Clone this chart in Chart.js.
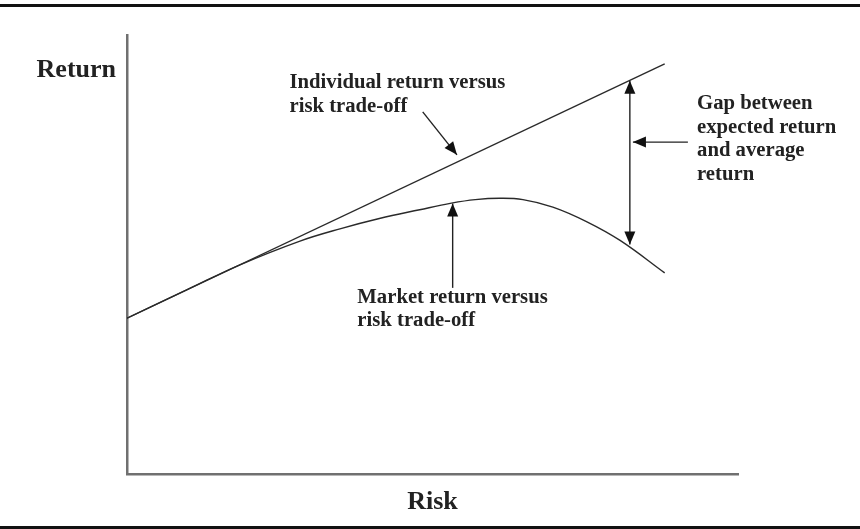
<!DOCTYPE html>
<html>
<head>
<meta charset="utf-8">
<script src="https://cdn.jsdelivr.net/npm/chart.js@4.4.1/dist/chart.umd.min.js"></script>
<style>
    html, body { margin: 0; padding: 0; background: #fff; }
    #wrap { width: 860px; height: 529px; }
</style>
</head>
<body>
<div id="wrap"><canvas id="riskChart" width="860" height="529"></canvas></div>
<script>
// risk on x, return on y (arbitrary 0-100 units, no ticks in the original)
var riskIndividual = [0, 88];
var returnIndividual = [35.5, 93.4];

var riskMarket = [0, 10, 18.4, 28.2, 35, 41.3, 47.9, 53.1, 57, 61, 64.8, 69.7, 75.2, 80.7, 88];
var returnMarket = [35.5, 42.1, 47.6, 53.0, 55.9, 58.2, 60.2, 61.7, 62.5, 62.8, 62.5, 60.8, 57.5, 53.2, 45.8];

var individualLabel = ['Individual return versus', 'risk trade-off'];
var marketLabel = ['Market return versus', 'risk trade-off'];
var gapLabel = ['Gap between', 'expected return', 'and average', 'return'];
var yTitle = 'Return';
var xTitle = 'Risk';

var SERIF = '"Liberation Serif", "DejaVu Serif", serif';

function toPoints(xs, ys) {
    return xs.map(function (x, i) { return { x: x, y: ys[i] }; });
}

function drawArrow(ctx, x1, y1, x2, y2, both) {
    var head = 13, half = 5.5;
    function tip(ax, ay, bx, by) {
        var a = Math.atan2(by - ay, bx - ax);
        ctx.beginPath();
        ctx.moveTo(bx, by);
        ctx.lineTo(bx - head * Math.cos(a) + half * Math.sin(a), by - head * Math.sin(a) - half * Math.cos(a));
        ctx.lineTo(bx - head * Math.cos(a) - half * Math.sin(a), by - head * Math.sin(a) + half * Math.cos(a));
        ctx.closePath();
        ctx.fill();
    }
    ctx.beginPath();
    ctx.moveTo(x1, y1);
    ctx.lineTo(x2, y2);
    ctx.stroke();
    tip(x1, y1, x2, y2);
    if (both) tip(x2, y2, x1, y1);
}

var sketchPlugin = {
    id: 'sketch',
    beforeDraw: function (chart) {
        var ctx = chart.ctx;
        ctx.save();
        ctx.fillStyle = '#fff';
        ctx.fillRect(0, 0, chart.width, chart.height);
        // rules above and below the figure
        ctx.fillStyle = '#111';
        ctx.fillRect(0, 4, chart.width, 3);
        ctx.fillRect(0, 526, chart.width, 3);
        ctx.restore();
    },
    afterDatasetsDraw: function (chart, args, opts) {
        var ctx = chart.ctx;
        var xs = chart.scales.x, ys = chart.scales.y;
        var area = chart.chartArea;
        var px = function (v) { return xs.getPixelForValue(v); };
        var py = function (v) { return ys.getPixelForValue(v); };
        ctx.save();
        ctx.strokeStyle = '#222';
        ctx.fillStyle = '#111';
        ctx.lineWidth = 1.4;
        opts.arrows.forEach(function (a) {
            drawArrow(ctx, px(a.from[0]), py(a.from[1]), px(a.to[0]), py(a.to[1]), a.both);
        });

        ctx.fillStyle = '#222';
        ctx.textAlign = 'left';
        ctx.textBaseline = 'alphabetic';
        ctx.font = 'bold 20.7px ' + SERIF;
        opts.labels.forEach(function (l) {
            l.lines.forEach(function (t, i) {
                ctx.fillText(t, px(l.at[0]), py(l.at[1]) + i * 23.5);
            });
        });

        ctx.font = 'bold 26px ' + SERIF;
        ctx.textAlign = 'right';
        ctx.fillText(yTitle, area.left - 11, area.top + 42);
        ctx.textAlign = 'center';
        ctx.fillText(xTitle, (area.left + area.right) / 2, area.bottom + 35);
        ctx.restore();
    }
};

document.addEventListener('DOMContentLoaded', function () {
    var ctx = document.getElementById('riskChart').getContext('2d');
    new Chart(ctx, {
        type: 'scatter',
        data: {
            datasets: [
                {
                    label: 'Individual',
                    data: toPoints(riskIndividual, returnIndividual),
                    showLine: true,
                    borderColor: '#2a2a2a',
                    borderWidth: 1.4,
                    pointRadius: 0
                },
                {
                    label: 'Market',
                    data: toPoints(riskMarket, returnMarket),
                    showLine: true,
                    borderColor: '#2a2a2a',
                    borderWidth: 1.4,
                    pointRadius: 0,
                    tension: 0.4
                }
            ]
        },
        options: {
            responsive: false,
            animation: false,
            layout: { padding: { left: 119, right: 122, top: 35, bottom: 47 } },
            plugins: {
                legend: { display: false },
                tooltip: { enabled: false },
                sketch: {
                    arrows: [
                        { from: [48.4, 82.5], to: [54.0, 72.7] },
                        { from: [53.3, 42.4], to: [53.3, 61.6] },
                        { from: [82.3, 89.6], to: [82.3, 52.3], both: true },
                        { from: [91.8, 75.6], to: [82.8, 75.6] }
                    ],
                    labels: [
                        { lines: individualLabel, at: [26.6, 87.9] },
                        { lines: marketLabel, at: [37.7, 39.0] },
                        { lines: gapLabel, at: [93.3, 83.1] }
                    ]
                }
            },
            scales: {
                x: {
                    type: 'linear', min: 0, max: 100,
                    grid: { display: false },
                    ticks: { display: false },
                    border: { display: true, color: '#707070', width: 2.5 }
                },
                y: {
                    type: 'linear', min: 0, max: 100,
                    grid: { display: false },
                    ticks: { display: false },
                    border: { display: true, color: '#707070', width: 2.5 }
                }
            }
        },
        plugins: [sketchPlugin]
    });
});
</script>
</body>
</html>
